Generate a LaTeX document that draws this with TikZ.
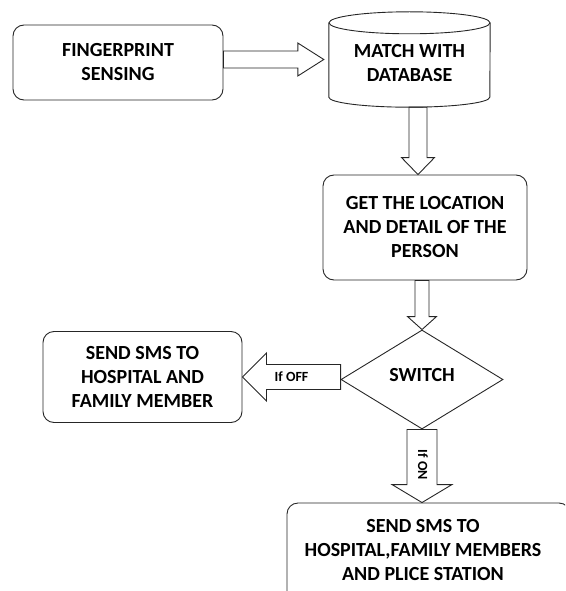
\documentclass[tikz,border=0pt]{standalone}
\usepackage{fontspec}
\setmainfont{Carlito}
\usetikzlibrary{calc,shapes.geometric}
\tikzset{
  line/.style={draw=black!85, line width=0.9pt},
  box/.style={line, rounded corners=11pt, inner sep=0pt},
  txt/.style={font=\bfseries\fontsize{20}{24}\selectfont, align=center, text=black},
  small/.style={font=\bfseries\fontsize{14}{16}\selectfont, text=black},
  conn/.style={line, line join=miter},
}
\newcommand{\blockarrow}[5]{%
  \coordinate (baH) at ($(#2)!#5!(#1)$);
  \draw[conn] ($(#1)!#3!90:(#2)$) -- ($(baH)!#3!90:(#2)$) -- ($(baH)!#4!90:(#2)$) -- (#2)
    -- ($(baH)!#4!-90:(#2)$) -- ($(baH)!#3!-90:(#2)$) -- ($(#1)!#3!-90:(#2)$) -- cycle;}
\begin{document}
\begin{tikzpicture}[x=1pt,y=-1pt]
\useasboundingbox (0,0) rectangle (565,591);
\clip (0,0) rectangle (565,591);

% nodes
\node[box, txt, minimum width=210pt, minimum height=75pt] (fp) at (118,62.5) {FINGERPRINT\\SENSING};
\node[minimum width=161pt, minimum height=95pt, inner sep=0pt,
      label={[txt, yshift=-4pt]center:{MATCH WITH\\DATABASE}}] (db) at (409.5,59.5) {};
\draw[line] ([yshift=-11pt]db.north west) -- ([yshift=10pt]db.south west)
  arc[start angle=180, end angle=360, x radius=80.5pt, y radius=10pt] -- ([yshift=-11pt]db.north east);
\draw[line] ([yshift=-11pt]db.north) ellipse [x radius=80.5pt, y radius=11pt];
\node[box, txt, minimum width=204pt, minimum height=105pt] (loc) at (425,227.5) {GET THE LOCATION\\AND DETAIL OF THE\\PERSON};
\node[line, diamond, minimum width=162pt, minimum height=99pt, inner sep=0pt, txt] (sw) at (422,379.5) {\raisebox{9pt}{SWITCH}};
\node[box, txt, minimum width=199pt, minimum height=91pt] (left) at (142.5,377) {SEND SMS TO\\HOSPITAL AND\\FAMILY MEMBER};
\node[box, minimum width=283pt, minimum height=107pt] (bot) at (428.5,556.5) {};
\node[txt] (bott) at (423,550) {SEND SMS TO\\HOSPITAL,FAMILY MEMBERS\\AND PLICE STATION};

% connectors
\coordinate (a1t) at ([xshift=-5pt]db.west);
\coordinate (a1s) at (fp.east |- a1t);
\blockarrow{a1s}{a1t}{8.5pt}{16.5pt}{26pt}

\coordinate (a2s) at ([xshift=8.5pt]db.south);
\coordinate (a2t) at (a2s |- loc.north);
\blockarrow{a2s}{a2t}{9pt}{16.5pt}{17pt}

\coordinate (a3s) at (sw.north |- loc.south);
\blockarrow{a3s}{sw.north}{7pt}{14.5pt}{13pt}

\coordinate (a4s) at (sw.west |- left.east);
\blockarrow{a4s}{left.east}{12.5pt}{24pt}{24pt}
\node[small] (off) at ([xshift=-49pt]a4s) {If OFF};

\coordinate (a5t) at (sw.south |- bot.north);
\blockarrow{sw.south}{a5t}{15pt}{30pt}{18pt}
\node[small, rotate=-90] (on) at (423,465) {If ON};
\end{tikzpicture}
\end{document}
